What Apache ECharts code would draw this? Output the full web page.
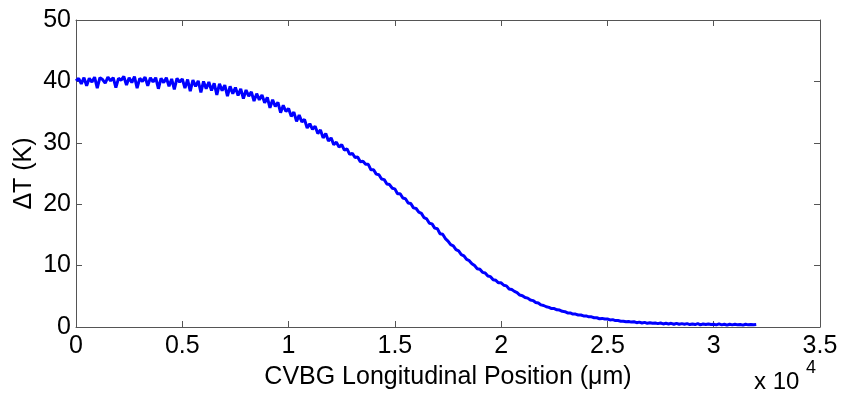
<!DOCTYPE html>
<html>
<head>
<meta charset="utf-8">
<script src="https://cdn.jsdelivr.net/npm/echarts@6/dist/echarts.min.js"></script>
<style>
html,body{margin:0;padding:0;background:#fff;}
#chart{width:843px;height:396px;}
</style>
</head>
<body>
<div id="chart"></div>
<script>
// Sample positions along the grating (µm): start and spacing of the samples
const positionStart = 0;
const positionStep = 125;
// Temperature rise ΔT (K) at each sample
const deltaT = [
  40.1, 40.5, 39.6, 40.6, 39.3, 40.5, 39.9, 40.7, 38.9, 40.6,
  40.3, 39.7, 40.7, 40.1, 40.6, 39.0, 40.5, 40.2, 40.8, 39.4,
  40.6, 39.8, 40.8, 38.9, 40.5, 40.0, 40.7, 39.3, 40.6, 39.9,
  40.6, 38.8, 40.5, 39.8, 40.6, 39.2, 40.4, 38.7, 40.5, 39.9,
  40.4, 38.9, 40.3, 38.4, 40.2, 39.2, 40.1, 38.2, 40.0, 38.8,
  39.9, 38.5, 39.7, 37.8, 39.6, 38.5, 39.4, 37.6, 39.2, 38.0,
  39.0, 37.7, 38.8, 37.2, 38.6, 37.6, 38.3, 36.8, 38.0, 37.0,
  37.8, 36.5, 37.4, 35.7, 37.0, 35.9, 36.6, 34.9, 36.1, 35.1,
  35.6, 34.3, 35.0, 33.5, 34.5, 33.4, 33.8, 32.4, 33.1, 32.2,
  32.7, 31.5, 32.1, 30.8, 31.5, 30.3, 30.8, 29.7, 30.1, 29.3,
  29.7, 28.8, 29.0, 28.1, 28.3, 27.6, 27.7, 26.9, 27.0, 26.5,
  26.5, 25.6, 25.6, 24.9, 24.8, 24.1, 24.0, 23.3, 23.2, 22.6,
  22.5, 21.7, 21.7, 21.0, 20.9, 20.2, 20.1, 19.4, 19.3, 18.7,
  18.5, 17.8, 17.6, 16.9, 16.8, 16.1, 16.0, 15.2, 15.1, 14.4,
  14.0, 13.4, 13.2, 12.6, 12.4, 11.8, 11.6, 11.0, 10.8, 10.3,
  10.0, 9.5, 9.4, 8.9, 8.8, 8.3, 8.2, 7.7, 7.6, 7.2,
  7.2, 6.8, 6.7, 6.2, 6.1, 5.8, 5.6, 5.2, 5.1, 4.8,
  4.7, 4.4, 4.3, 4.0, 3.9, 3.6, 3.5, 3.3, 3.2, 3.0,
  3.0, 2.8, 2.75, 2.55, 2.5, 2.3, 2.3, 2.1, 2.1, 1.95,
  1.95, 1.8, 1.8, 1.65, 1.65, 1.5, 1.5, 1.35, 1.4, 1.3,
  1.3, 1.15, 1.2, 1.05, 1.05, 0.95, 0.95, 0.85, 0.9, 0.8,
  0.85, 0.7, 0.8, 0.65, 0.75, 0.6, 0.7, 0.6, 0.65, 0.55,
  0.65, 0.5, 0.6, 0.5, 0.6, 0.45, 0.6, 0.45, 0.55, 0.45,
  0.55, 0.4, 0.5, 0.4, 0.55, 0.35, 0.5, 0.4, 0.5, 0.4,
  0.45, 0.35, 0.5, 0.35, 0.45, 0.3, 0.45, 0.35, 0.45, 0.35,
  0.4, 0.3, 0.45, 0.35, 0.4, 0.35, 0.4
];
// Axis settings / labels
const xMin = 0, xMax = 35000, xInterval = 5000;
const yMin = 0, yMax = 50, yInterval = 10;
const xScaleLabel = 'x 10';
const xScaleExp = '4';
const xTitle = 'CVBG Longitudinal Position (\u03bcm)';
const yTitle = '\u0394T (K)';

const seriesData = deltaT.map((v, i) => [positionStart + i * positionStep, v]);

const FONT = 'Liberation Sans, Arial, sans-serif';
const AXIS_COLOR = '#555';
const chart = echarts.init(document.getElementById('chart'), null, {renderer: 'canvas'});

const baseX = {
  type: 'value', min: xMin, max: xMax, interval: xInterval,
  axisLine: {show: true, onZero: false, lineStyle: {color: AXIS_COLOR, width: 1}},
  axisTick: {show: true, inside: true, length: 6, lineStyle: {color: AXIS_COLOR}},
  splitLine: {show: false}
};
const baseY = {
  type: 'value', min: yMin, max: yMax, interval: yInterval,
  axisLine: {show: true, onZero: false, lineStyle: {color: AXIS_COLOR, width: 1}},
  axisTick: {show: true, inside: true, length: 6, lineStyle: {color: AXIS_COLOR}},
  splitLine: {show: false}
};

chart.setOption({
  animation: false,
  backgroundColor: '#fff',
  grid: {left: 76, right: 23, top: 20, bottom: 69, containLabel: false},
  xAxis: [
    Object.assign({}, baseX, {
      position: 'bottom',
      name: xTitle, nameLocation: 'middle', nameGap: 38, nameMoveOverlap: false,
      nameTextStyle: {fontFamily: FONT, fontSize: 25, color: '#000'},
      axisLabel: {show: true, margin: 7, fontFamily: FONT, fontSize: 25, color: '#000',
        formatter: v => String(v / 10000)}
    }),
    Object.assign({}, baseX, {position: 'top', axisLabel: {show: false}})
  ],
  yAxis: [
    Object.assign({}, baseY, {
      position: 'left',
      name: yTitle, nameLocation: 'middle', nameGap: 39, nameMoveOverlap: false,
      nameTextStyle: {fontFamily: FONT, fontSize: 25, color: '#000'},
      axisLabel: {show: true, margin: 5, fontFamily: FONT, fontSize: 25, color: '#000'}
    }),
    Object.assign({}, baseY, {position: 'right', axisLabel: {show: false}})
  ],
  graphic: [
    {type: 'text', left: 754, top: 370,
      style: {text: xScaleLabel, font: '24px ' + FONT, fill: '#000'}},
    {type: 'text', left: 806, top: 359,
      style: {text: xScaleExp, font: '18px ' + FONT, fill: '#000'}}
  ],
  series: [{
    type: 'line', xAxisIndex: 0, yAxisIndex: 0,
    data: seriesData, showSymbol: false, symbol: 'none',
    lineStyle: {color: '#0000ff', width: 3}
  }]
});
</script>
</body>
</html>
